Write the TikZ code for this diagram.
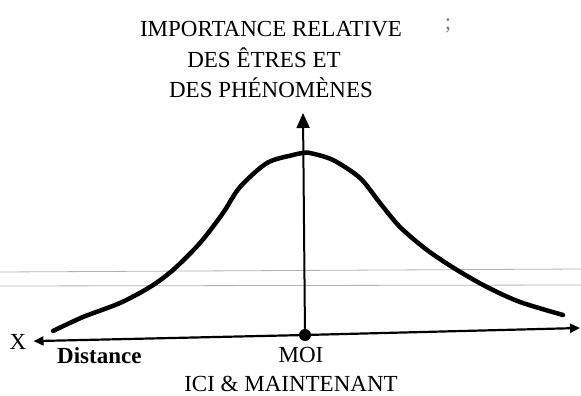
\documentclass[tikz,border=0pt]{standalone}
\usepackage{fontspec}
\setmainfont{Liberation Serif}
\usetikzlibrary{arrows.meta}

\begin{document}
\begin{tikzpicture}[x=1pt, y=-1pt,
  txt/.style={font=\fontsize{23}{23}\selectfont, inner sep=0pt, anchor=base},
  axe/.style={line width=2.2pt},
  cloche/.style={line width=4.5pt, line cap=round, line join=round}]
\useasboundingbox (0,0) rectangle (581,396);
% traits du scan
\draw[gray!60, line width=0.8pt] (0,272) -- (581,269);
\draw[gray!60, line width=0.8pt] (0,286) -- (581,285);
% titre
\node[txt] (t1) at (271,37) {IMPORTANCE RELATIVE};
\node[txt] (t2) at (264,67) {DES ÊTRES ET};
\node[txt] (t3) at (271,97) {DES PHÉNOMÈNES};
\node[txt, gray] (pv) at (448,30) {;};
% axes
\node[txt] (x) at (18,349) {X};
\coordinate (moi) at (305,335);
\coordinate (haut) at (303,113);
\coordinate (droite) at (580,328);
\draw[axe, shorten >=7pt, -{Triangle[length=10pt,width=9pt]}] (moi) -- (x);
\draw[axe, -{Triangle[length=10pt,width=9pt]}] (moi) -- (droite);
\draw[line width=2pt, -{Triangle[length=15pt,width=13pt]}] (moi) -- (haut);
\fill (moi) circle (6pt);
% courbe
\draw[cloche] plot[smooth] coordinates {(53,331) (83,317) (120,303) (150,287)
  (173,270) (200,243) (223,213) (240,187) (267,163) (293,155) (303,153)
  (310,153) (333,160) (360,178) (380,203) (400,227) (427,250) (457,270)
  (487,287) (520,302) (563,315)};
% etiquettes
\node[txt, font=\fontsize{23}{23}\selectfont\bfseries, anchor=base west] (dist) at (57,363) {Distance};
\node[txt] (lmoi) at (301,362) {MOI};
\node[txt] (ici) at (291,391) {ICI \& MAINTENANT};
\end{tikzpicture}
\end{document}
